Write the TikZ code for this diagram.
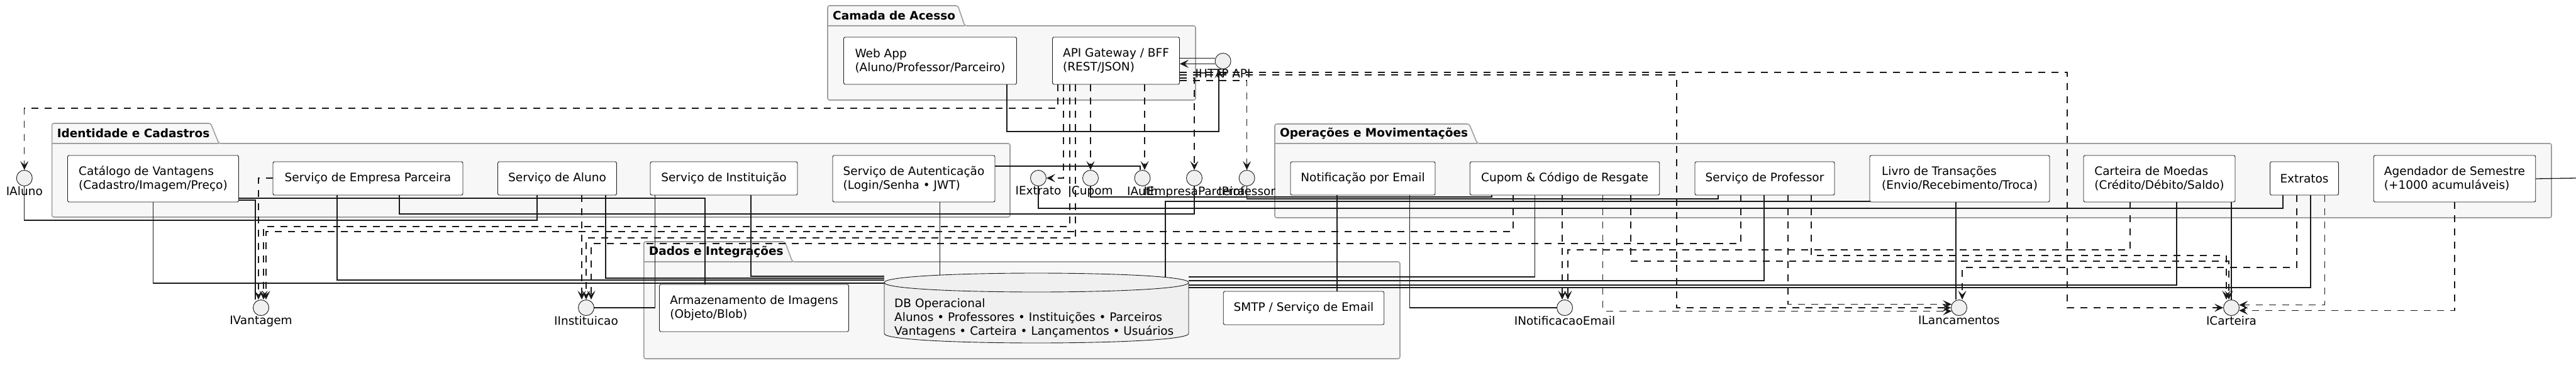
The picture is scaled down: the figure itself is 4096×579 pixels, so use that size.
\documentclass[tikz,border=0pt]{standalone}
\usepackage{fontspec}
\setmainfont{DejaVu Sans}
\usetikzlibrary{arrows.meta,positioning,calc}

\tikzset{
  comp/.style={draw=black!90, fill=white, rounded corners=2.5pt, line width=0.9pt,
    align=left, inner sep=0pt},
  iface/.style={circle, draw=black!90, fill=black!6, line width=0.9pt,
    minimum size=25pt, inner sep=0pt, label distance=18pt},
  lbl/.style={inner sep=0pt},
  pkg/.style={draw=gray!75, fill=black!3, line width=1.6pt, rounded corners=3pt},
  pkgline/.style={draw=gray!75, line width=1.6pt},
  title/.style={font=\bfseries\fontsize{18.5pt}{22pt}\selectfont, inner sep=0pt},
  link/.style={line width=1.3pt, black!90},
  arr/.style={link, -{Stealth[length=14pt,width=13pt,inset=6pt]}},
  uses/.style={arr, dash pattern=on 11pt off 10pt},
  dbshape/.style={draw=black!90, fill=black!6, line width=0.9pt},
}

\begin{document}
\begin{tikzpicture}[x=1pt, y=-1pt, font=\fontsize{18.5pt}{22pt}\selectfont]
  \path[fill=white, use as bounding box] (0,0) rectangle (4096,579);

  % packages
  \foreach \l/\t/\a/\s/\h/\r/\b/\name in {
      1316/9/1523/1534/41/1901/159/Camada de Acesso,
      82.6/196/335/348/228/1606/345/Identidade e Cadastros,
      2027/197/2336/2349/228/4057/346/Operações e Movimentações,
      1023.7/384/1248/1260/416/2226/570/Dados e Integrações}{
    \filldraw[pkg] (\l,\h) -- (\l,\t) -- (\a,\t) -- (\s,\h) -- (\r,\h) -- (\r,\b) -- (\l,\b) -- cycle;
    \draw[pkgline] (\l,\h) -- (\s,\h);
    \node[title, anchor=west] at ({\l+8},{(\t+\h)/2}) {\name};
  }

  % access layer
  \node[comp, minimum width=275pt, minimum height=75pt] (webapp) at (1479,96.5) {Web App\\(Aluno/Professor/Parceiro)};
  \node[comp, minimum width=202pt, minimum height=75pt] (gateway) at (1774.5,96.5) {API Gateway / BFF\\(REST/JSON)};
  \node[iface, label={[lbl]below:IHTTP API}] (ihttp) at (1944.6,97) {};

  % identidade e cadastros
  \node[comp, minimum width=272pt, minimum height=74pt] (catalogo) at (243.5,284) {Catálogo de Vantagens\\(Cadastro/Imagem/Preço)};
  \node[comp, minimum width=302pt, minimum height=53pt] (empresa) at (585,283.5) {Serviço de Empresa Parceira};
  \node[comp, minimum width=189pt, minimum height=53pt] (aluno) at (886,283.5) {Serviço de Aluno};
  \node[comp, minimum width=234pt, minimum height=53pt] (instit) at (1151,283.5) {Serviço de Instituição};
  \node[comp, minimum width=258pt, minimum height=74pt] (auth) at (1453,284) {Serviço de Autenticação\\(Login/Senha • JWT)};

  % operacoes e movimentacoes
  \node[comp, minimum width=230pt, minimum height=53pt] (notif) at (2167,283.5) {Notificação por Email};
  \node[comp, minimum width=301.5pt, minimum height=53pt] (cupom) at (2488,283.5) {Cupom \& Código de Resgate};
  \node[comp, minimum width=222pt, minimum height=53pt] (professor) at (2806,283.5) {Serviço de Professor};
  \node[comp, minimum width=286pt, minimum height=74pt] (livro) at (3116,284) {Livro de Transações\\(Envio/Recebimento/Troca)};
  \node[comp, minimum width=241pt, minimum height=74pt] (carteira) at (3433.5,284) {Carteira de Moedas\\(Crédito/Débito/Saldo)};
  \node[comp, minimum width=109pt, minimum height=53pt] (extratos) at (3664,283.5) {Extratos};
  \node[comp, minimum width=257.5pt, minimum height=74pt] (agendador) at (3903,284) {Agendador de Semestre\\(+1000 acumuláveis)};

  % dados e integracoes
  \node[comp, minimum width=301pt, minimum height=75pt] (storage) at (1199,489.5) {Armazenamento de Imagens\\(Objeto/Blob)};
  \node[comp, minimum width=255.5pt, minimum height=53pt] (smtp) at (2073,489.5) {SMTP / Serviço de Email};
  \node[minimum width=484pt, minimum height=111pt, inner sep=0pt] (db) at (1648,489.5) {};
  \filldraw[dbshape] (1406,449) -- (1406,530) .. controls (1406,550) and (1890,550) .. (1890,530)
    -- (1890,449) .. controls (1890,429) and (1406,429) .. (1406,449) -- cycle;
  \draw[dbshape, fill=none] (1406,449) .. controls (1406,469) and (1890,469) .. (1890,449);
  \node[align=left, anchor=west, inner sep=0pt] (dbtext) at (1422,505) {DB Operacional\\Alunos • Professores • Instituições • Parceiros\\Vantagens • Carteira • Lançamentos • Usuários};

  % interfaces
  \node[iface, label={[lbl]below:IAluno}] (iAluno) at (38.8,283) {};
  \node[iface, label={[lbl]below:IExtrato}] (iExtrato) at (1651,283) {};
  \node[iface, label={[lbl]below:ICupom}] (iCupom) at (1734,283) {};
  \node[iface, label={[lbl]below:IAuth}] (iAuth) at (1816.5,283) {};
  \node[iface, label={[lbl]below:IEmpresaParceira}] (iEmpresa) at (1899,283) {};
  \node[iface, label={[lbl]below:IProfessor}] (iProfessor) at (1982.6,283) {};
  \node[iface, label={[lbl]below:IVantagem}] (iVantagem) at (415,489) {};
  \node[iface, label={[lbl]below:IInstituicao}] (iInstituicao) at (932,489) {};
  \node[iface, label={[lbl]below:INotificacaoEmail}] (iNotif) at (2488,489) {};
  \node[iface, label={[lbl]below:ILancamentos}] (iLanc) at (3115,489) {};
  \node[iface, label={[lbl]below:ICarteira}] (iCarteira) at (3548,489) {};

  % access links
  \draw[link] (ihttp.160) -- (gateway.east |- ihttp.160);
  \draw[arr] (ihttp.200) -- (gateway.east |- ihttp.200);
  \draw[arr] (webapp.south -| 1601,0) -- (1601,209) -| ([xshift=-6.5pt]ihttp.south);

  % gateway uses
  \draw[uses] (gateway.south -| 1682,0) -- (1682,172) -| (iAluno.north);
  \draw[uses] (gateway.south -| 1691,0) |- (iExtrato.east);
  \draw[uses] (gateway.south -| 1701,0) -- (1701,360) -| ([xshift=4pt]iVantagem.north);
  \draw[uses] (gateway.south -| 1710,0) -- (1710,378) -| (iInstituicao.north);
  \draw[uses] (gateway.south -| iCupom.north) -- (iCupom.north);
  \draw[uses] (gateway.south -| 1820,0) -- ([xshift=3.5pt]iAuth.north);
  \draw[uses] (gateway.east |- 0,124) -| (iEmpresa.north);
  \draw[uses] (gateway.east |- 0,128) -| (iProfessor.north);
  \draw[uses] (gateway.east |- 0,119) -- (2666,119) |- (iLanc.west);
  \draw[uses] (gateway.east |- 0,115) -- (3287,115) |- (iCarteira.west);

  % identidade links
  \draw[link] (iAluno.south) -- (38.8,350) -| (aluno.south -| 854,0);
  \draw[link] (catalogo.south) |- (db.west |- 0,450);
  \draw[link] (catalogo.east |- 0,318) -| ([xshift=-9pt]iVantagem.north);
  \draw[link] (catalogo.east |- 0,315) -| (storage.north -| 1121,0);
  \draw[link] (empresa.south -| 536,0) |- (db.west |- 0,445);
  \draw[link] (empresa.south -| 635,0) -- (635,340) -| (iEmpresa.south);
  \draw[uses] (empresa.west |- 0,283) -| ([xshift=-4pt]iVantagem.north);
  \draw[uses] (aluno.south -| 925,0) -- ([xshift=-7pt]iInstituicao.north);
  \draw[link] (aluno.south -| 963,0) |- (db.west |- 0,442);
  \draw[link] (instit.south -| 1041.5,0) |- (iInstituicao.east);
  \draw[link] (instit.south -| 1194,0) |- (db.west |- 0,439);
  \draw[link] (auth.east |- 0,264) -| ([xshift=-3.5pt]iAuth.north);
  \draw[link] (auth.south -| 1494.6,0) -- ($(db.north -| 1494.6,0)+(0,3.5)$);

  % operacoes links
  \draw[link] (notif.south -| 2126,0) -- (smtp.north -| 2126,0);
  \draw[link] (notif.south -| 2241.5,0) |- (iNotif.west);
  \draw[link] (iCupom.south) -- (1734,313) -| (cupom.south -| 2372,0);
  \draw[uses] (cupom.south -| 2406,0) -- (2406,368) -| ([xshift=8pt]iVantagem.north);
  \draw[link] (cupom.south -| 2440.6,0) |- (db.east |- 0,440);
  \draw[uses] (cupom.south -| 2484,0) -- ([xshift=-4pt]iNotif.north);
  \draw[uses] (cupom.south -| 2548.7,0) |- (iLanc.205);
  \draw[uses] (cupom.south -| 2593,0) -- (2593,415) -| ([xshift=-4pt]iCarteira.north);
  \draw[link] (iProfessor.south) -- (1982.6,316) -| (professor.south -| 2732,0);
  \draw[uses] (professor.south -| 2768,0) -- (2768,387) -| ([xshift=8pt]iInstituicao.north);
  \draw[link] (professor.south -| 2805,0) |- (db.east |- 0,446);
  \draw[uses] (professor.south -| 2843,0) |- (iLanc.155);
  \draw[uses] (professor.south -| 2880,0) -- (2880,406) -| ([xshift=-8pt]iCarteira.north);
  \draw[link] (livro.west |- 0,320) -- (1853,320) -- ($(db.north -| 1853,0)+(0,7)$);
  \draw[link] (livro.south -| 3110,0) -- ([xshift=-5pt]iLanc.north);
  \draw[link] (iExtrato.south) -- (1651,331) -| (extratos.south -| 3630,0);
  \draw[uses] (extratos.south -| 3652,0) -- (3652,425) -| ([xshift=5pt]iLanc.north);
  \draw[link] (extratos.south -| 3674,0) |- (db.east |- 0,457);
  \draw[uses] (extratos.south -| 3696.6,0) |- (iCarteira.20);
  \draw[uses] (carteira.south -| 3387,0) -- (3387,397) -| ([xshift=5pt]iNotif.north);
  \draw[link] (carteira.south -| 3461,0) |- (db.east |- 0,453);
  \draw[link] (carteira.south -| iCarteira.north) -- (iCarteira.north);
  \draw[uses] (agendador.south) |- (iCarteira.-20);
  \coordinate (offpage) at (4096,283);
  \draw[link] (agendador.east) -- (offpage);
\end{tikzpicture}
\end{document}
